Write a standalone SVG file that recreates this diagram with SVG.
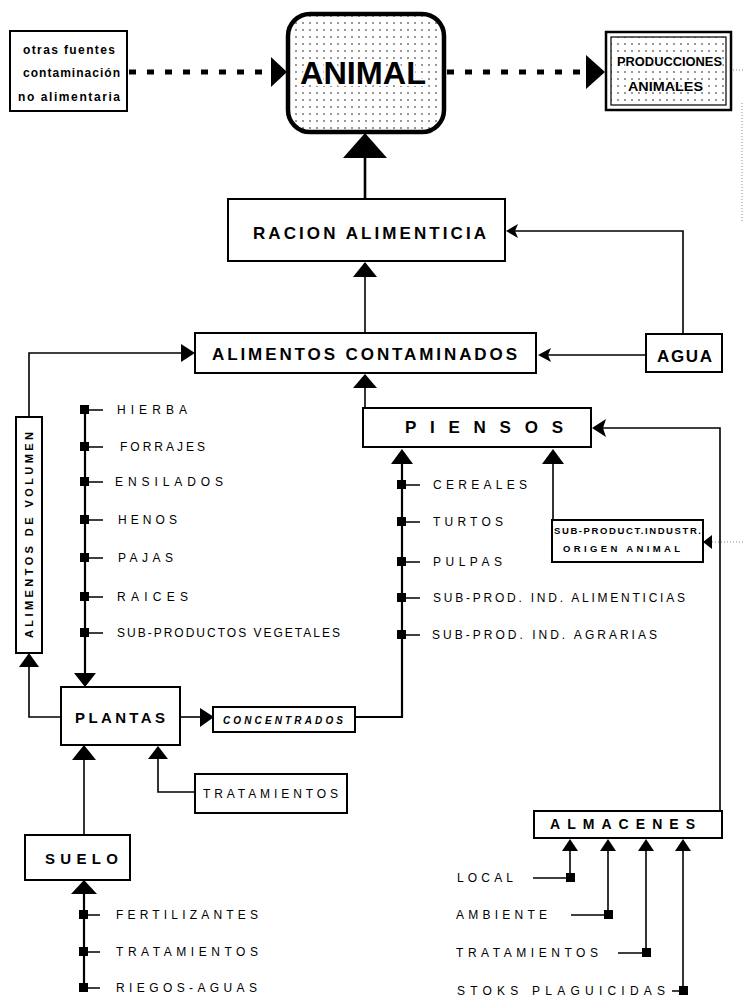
<svg xmlns="http://www.w3.org/2000/svg" width="743" height="1008" viewBox="0 0 743 1008">
<defs>
<pattern id="dots" width="7" height="7" patternUnits="userSpaceOnUse">
<circle cx="2" cy="2" r="0.75" fill="#000"/>
</pattern>
<style>
.box{fill:#fff;stroke:#000;stroke-width:2}
.ln{fill:none;stroke:#000;stroke-width:1.6}
.lnb{fill:none;stroke:#000;stroke-width:2.2}
.ah{fill:#000;stroke:none}
.sq{fill:#000}
.dot{fill:none;stroke:#000;stroke-width:5;stroke-dasharray:7 11}
.faint{fill:none;stroke:#888;stroke-width:1;stroke-dasharray:1 2}
.bl{font-family:"Liberation Sans",Arial,sans-serif;font-weight:bold;fill:#000}
.th{font-family:"Liberation Sans",Arial,sans-serif;font-size:12px;fill:#000}
</style>
</defs>
<rect width="743" height="1008" fill="#fff"/>

<g id="connectors">
<line class="dot" x1="129" y1="72" x2="270" y2="72"/>
<polygon class="ah" points="287,72 271,57 271,87"/>
<line class="dot" x1="447" y1="72" x2="584" y2="72"/>
<polygon class="ah" points="605,72 586,55 586,89"/>
<path class="faint" d="M733,70 H743 M742,103 V222"/>
<line x1="365" y1="199" x2="365" y2="156" stroke="#000" stroke-width="2.6"/>
<polygon class="ah" points="365,133 343,158 387,158"/>
<line class="ln" x1="365" y1="333" x2="365" y2="276"/>
<polygon class="ah" points="365,262 353,277 377,277"/>
<polyline class="ln" points="683,334 683,231 512,231"/>
<polygon class="ah" points="506,231 518,224 515,231 518,238"/>
<line class="ln" x1="646" y1="355" x2="545" y2="355"/>
<polygon class="ah" points="538,355 551,348 548,355 551,362"/>
<line class="ln" x1="365" y1="408" x2="365" y2="386"/>
<polygon class="ah" points="365,374 353,388 377,388"/>
<polyline class="ln" points="29,417 29,353 183,353"/>
<polygon class="ah" points="195,353 181,344 181,362"/>
<polyline class="ln" points="61,717 29,717 29,666"/>
<polygon class="ah" points="29,653 19,667 39,667"/>
<line class="lnb" x1="85" y1="410" x2="85" y2="675"/>
<polygon class="ah" points="85,687 74,673 96,673"/>
<line class="ln" x1="180" y1="717" x2="202" y2="717"/>
<polygon class="ah" points="214,717 200,708 200,727"/>
<polyline class="lnb" points="355,717 402,717 402,462"/>
<polygon class="ah" points="402,449 391,464 413,464"/>
<line class="ln" x1="553" y1="520" x2="553" y2="462"/>
<polygon class="ah" points="553,449 542,464 564,464"/>
<polyline class="ln" points="720,812 720,428 602,428"/>
<polygon class="ah" points="592,428 606,419 603,428 606,437"/>
<line class="faint" x1="712" y1="542" x2="743" y2="542" stroke="#555"/>
<polygon class="ah" points="703,542 712,535 712,549"/>
<line class="ln" x1="84" y1="835" x2="84" y2="758"/>
<polygon class="ah" points="84,745 72,760 96,760"/>
<polyline class="ln" points="195,792 158,792 158,757"/>
<polygon class="ah" points="158,746 148,759 168,759"/>
<line class="lnb" x1="84" y1="892" x2="84" y2="988"/>
<polygon class="ah" points="84,880 71,894 97,894"/>
<line class="ln" x1="570" y1="850" x2="570" y2="878"/>
<polygon class="ah" points="570,839 562,851 578,851"/>
<line class="ln" x1="608" y1="850" x2="608" y2="915"/>
<polygon class="ah" points="608,839 600,851 616,851"/>
<line class="ln" x1="646" y1="850" x2="646" y2="953"/>
<polygon class="ah" points="646,839 638,851 654,851"/>
<line class="ln" x1="683" y1="850" x2="683" y2="991"/>
<polygon class="ah" points="683,839 675,851 691,851"/>
<path class="ln" d="M533,878 H568 M571,915 H606 M618,953 H644 M672,991 H681"/>
<path class="ln" d="M88,410 H103 M88,447 H103 M88,482 H103 M88,520 H103 M88,558 H103 M88,597 H103 M88,633 H103"/>
<path class="ln" d="M405,485 H420 M405,522 H420 M405,562 H420 M405,598 H420 M405,635 H420"/>
<path class="ln" d="M87,915 H100 M87,952 H100 M87,988 H100"/>
<g class="sq">
<rect x="80" y="405" width="9" height="9"/><rect x="80" y="442" width="9" height="9"/><rect x="80" y="477" width="9" height="9"/><rect x="80" y="515" width="9" height="9"/><rect x="80" y="553" width="9" height="9"/><rect x="80" y="592" width="9" height="9"/><rect x="80" y="628" width="9" height="9"/>
<rect x="397" y="480" width="9" height="9"/><rect x="397" y="517" width="9" height="9"/><rect x="397" y="557" width="9" height="9"/><rect x="397" y="593" width="9" height="9"/><rect x="397" y="630" width="9" height="9"/>
<rect x="79" y="910" width="9" height="9"/><rect x="79" y="947" width="9" height="9"/><rect x="79" y="983" width="9" height="9"/>
<rect x="566" y="873" width="9" height="9"/><rect x="604" y="910" width="9" height="9"/><rect x="642" y="948" width="9" height="9"/><rect x="679" y="986" width="9" height="9"/>
</g>
</g>

<g id="otras">
<rect class="box" x="10" y="31" width="117" height="80"/>
<text class="bl" font-size="12" x="23" y="54" textLength="92" lengthAdjust="spacing">otras fuentes</text>
<text class="bl" font-size="12" x="23" y="77" textLength="97" lengthAdjust="spacing">contaminación</text>
<text class="bl" font-size="12" x="18" y="101" textLength="102" lengthAdjust="spacing">no alimentaria</text>
</g>

<g id="animal">
<rect x="288" y="14" width="156" height="118" rx="22" fill="#fff" stroke="none"/>
<rect x="288" y="14" width="156" height="118" rx="22" fill="url(#dots)" stroke="#000" stroke-width="4.5"/>
<text class="bl" font-size="32" x="300" y="84" textLength="126" lengthAdjust="spacingAndGlyphs" stroke="#fff" stroke-width="4" paint-order="stroke">ANIMAL</text>
</g>

<g id="producciones">
<rect x="606" y="32" width="125" height="78" fill="#fff" stroke="#000" stroke-width="2.5"/>
<rect x="611" y="37" width="115" height="68" fill="url(#dots)" stroke="#000" stroke-width="1.2"/>
<text class="bl" font-size="12" x="617" y="66" textLength="105" lengthAdjust="spacingAndGlyphs" stroke="#fff" stroke-width="2" paint-order="stroke">PRODUCCIONES</text>
<text class="bl" font-size="12" x="628" y="91" textLength="75" lengthAdjust="spacingAndGlyphs" stroke="#fff" stroke-width="2" paint-order="stroke">ANIMALES</text>
</g>

<g id="racion">
<rect class="box" x="228" y="199" width="277" height="62"/>
<text class="bl" font-size="17" x="253" y="239" textLength="233" lengthAdjust="spacing">RACION  ALIMENTICIA</text>
</g>

<g id="alimentos">
<rect class="box" x="195" y="333" width="341" height="40"/>
<text class="bl" font-size="17" x="212" y="360" textLength="305" lengthAdjust="spacing">ALIMENTOS CONTAMINADOS</text>
</g>

<g id="agua">
<rect class="box" x="646" y="334" width="76" height="38"/>
<text class="bl" font-size="17" x="657" y="362" textLength="55" lengthAdjust="spacing">AGUA</text>
</g>

<g id="piensos">
<rect class="box" x="363" y="408" width="228" height="39"/>
<text class="bl" font-size="17" x="405" y="433" textLength="158" lengthAdjust="spacing">PIENSOS</text>
</g>

<g id="subproduct">
<rect class="box" x="552" y="520" width="151" height="42"/>
<text class="bl" font-size="9.5" x="554" y="534" textLength="147" lengthAdjust="spacing">SUB-PRODUCT.INDUSTR.</text>
<text class="bl" font-size="9.5" x="563" y="552" textLength="117" lengthAdjust="spacing">ORIGEN ANIMAL</text>
</g>

<g id="volumen">
<rect class="box" x="16" y="417" width="26" height="236"/>
<text class="bl" font-size="11" transform="translate(33,638) rotate(-90)" x="0" y="0" textLength="206" lengthAdjust="spacing">ALIMENTOS DE VOLUMEN</text>
</g>

<g id="lista-volumen">
<text class="th" x="117" y="414" textLength="70" lengthAdjust="spacing">HIERBA</text>
<text class="th" x="120" y="451" textLength="85" lengthAdjust="spacing">FORRAJES</text>
<text class="th" x="115" y="486" textLength="108" lengthAdjust="spacing">ENSILADOS</text>
<text class="th" x="118" y="524" textLength="59" lengthAdjust="spacing">HENOS</text>
<text class="th" x="118" y="562" textLength="55" lengthAdjust="spacing">PAJAS</text>
<text class="th" x="117" y="601" textLength="71" lengthAdjust="spacing">RAICES</text>
<text class="th" x="117" y="637" textLength="223" lengthAdjust="spacing">SUB-PRODUCTOS  VEGETALES</text>
</g>

<g id="lista-piensos">
<text class="th" x="433" y="489" textLength="94" lengthAdjust="spacing">CEREALES</text>
<text class="th" x="433" y="526" textLength="70" lengthAdjust="spacing">TURTOS</text>
<text class="th" x="433" y="566" textLength="69" lengthAdjust="spacing">PULPAS</text>
<text class="th" x="433" y="602" textLength="252" lengthAdjust="spacing">SUB-PROD. IND.  ALIMENTICIAS</text>
<text class="th" x="432" y="639" textLength="225" lengthAdjust="spacing">SUB-PROD. IND.  AGRARIAS</text>
</g>

<g id="plantas">
<rect class="box" x="61" y="687" width="119" height="58"/>
<text class="bl" font-size="15" x="75" y="723" textLength="90" lengthAdjust="spacing">PLANTAS</text>
</g>

<g id="concentrados">
<rect class="box" x="213" y="707" width="142" height="25" stroke-width="1.6"/>
<text class="bl" font-size="10" font-style="italic" x="223" y="724" textLength="120" lengthAdjust="spacing">CONCENTRADOS</text>
</g>

<g id="tratamientos">
<rect class="box" x="195" y="774" width="152" height="39"/>
<text class="th" font-size="12" x="203" y="798" textLength="135" lengthAdjust="spacing">TRATAMIENTOS</text>
</g>

<g id="suelo">
<rect class="box" x="25" y="835" width="105" height="45"/>
<text class="bl" font-size="15" x="45" y="864" textLength="73" lengthAdjust="spacing">SUELO</text>
</g>

<g id="lista-suelo">
<text class="th" x="116" y="919" textLength="142" lengthAdjust="spacing">FERTILIZANTES</text>
<text class="th" x="116" y="956" textLength="142" lengthAdjust="spacing">TRATAMIENTOS</text>
<text class="th" x="116" y="992" textLength="141" lengthAdjust="spacing">RIEGOS-AGUAS</text>
</g>

<g id="almacenes">
<rect class="box" x="534" y="811" width="188" height="27"/>
<text class="bl" font-size="14" x="550" y="829" textLength="145" lengthAdjust="spacing">ALMACENES</text>
</g>

<g id="lista-almacenes">
<text class="th" x="457" y="882" textLength="56" lengthAdjust="spacing">LOCAL</text>
<text class="th" x="456" y="919" textLength="91" lengthAdjust="spacing">AMBIENTE</text>
<text class="th" x="456" y="957" textLength="142" lengthAdjust="spacing">TRATAMIENTOS</text>
<text class="th" x="457" y="995" textLength="208" lengthAdjust="spacing">STOKS PLAGUICIDAS</text>
</g>
</svg>
